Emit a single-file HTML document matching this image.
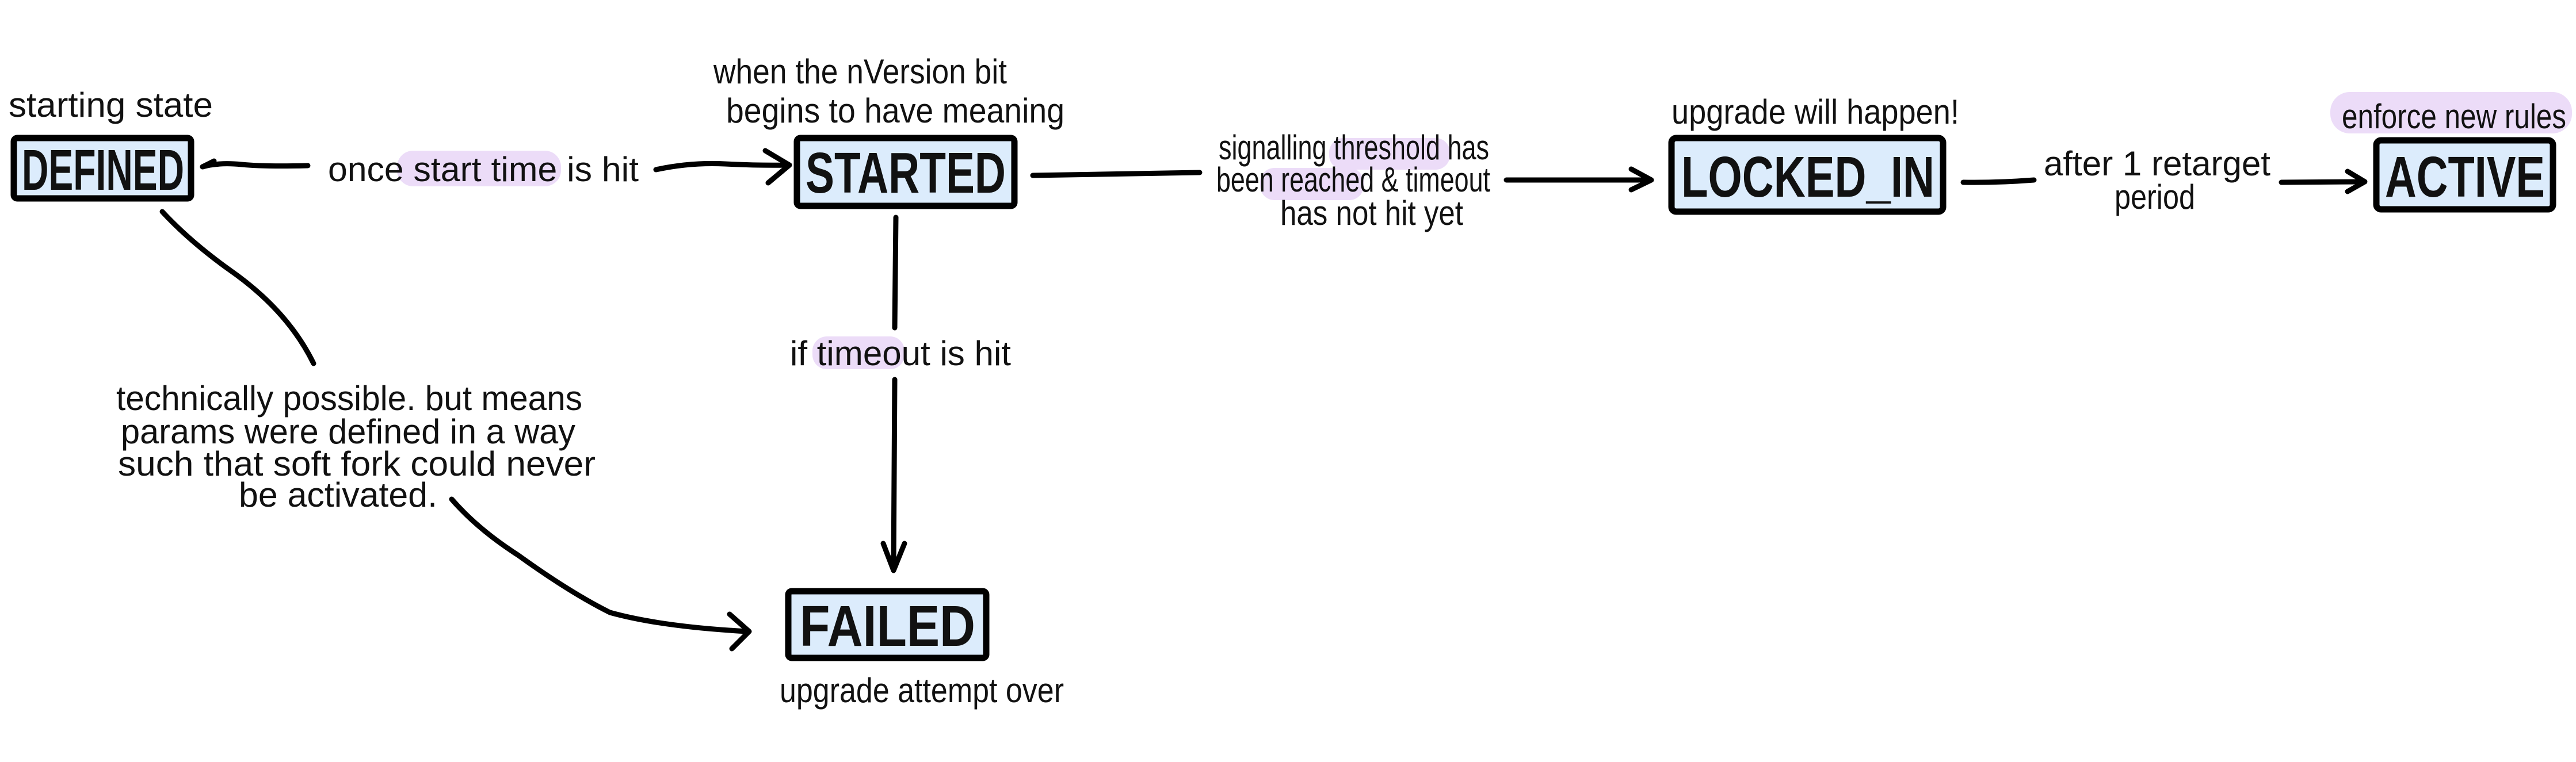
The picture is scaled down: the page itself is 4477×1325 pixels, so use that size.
<!DOCTYPE html>
<html><head><meta charset="utf-8"><style>
html,body{margin:0;padding:0;background:#fff;}
svg{display:block;}
.t{font-family:"Liberation Sans",sans-serif;font-size:60px;fill:#111;}
.b{font-family:"Liberation Sans",sans-serif;font-size:100px;font-weight:bold;fill:#111;}
.l{fill:none;stroke:#000;stroke-width:9;stroke-linecap:round;stroke-linejoin:round;}
.box{fill:#dcecfc;stroke:#000;stroke-width:11;}
.hl{fill:#ecdcf8;}
</style></head><body>
<svg width="4477" height="1325" viewBox="0 0 4477 1325" xmlns="http://www.w3.org/2000/svg">
<rect class="hl" x="690" y="262" width="285" height="62" rx="28"/>
<rect class="hl" x="1412" y="585" width="160" height="57" rx="25"/>
<rect class="hl" x="2310" y="240" width="210" height="55" rx="25"/>
<rect class="hl" x="2190" y="292" width="180" height="56" rx="25"/>
<rect class="hl" x="4050" y="160" width="420" height="72" rx="34"/>

<rect class="box" x="24" y="240" width="308" height="105" rx="6"/>
<text class="b" x="38" y="330" textLength="282" lengthAdjust="spacingAndGlyphs">DEFINED</text>
<rect class="box" x="1385" y="240" width="378" height="118" rx="6"/>
<text class="b" x="1400" y="335" textLength="348" lengthAdjust="spacingAndGlyphs">STARTED</text>
<rect class="box" x="2905" y="240" width="472" height="128" rx="8"/>
<text class="b" x="2922" y="342" textLength="440" lengthAdjust="spacingAndGlyphs">LOCKED_IN</text>
<rect class="box" x="4130" y="244" width="307" height="120" rx="8"/>
<text class="b" x="4145" y="342" textLength="278" lengthAdjust="spacingAndGlyphs">ACTIVE</text>
<rect class="box" x="1370" y="1028" width="344" height="116" rx="6"/>
<text class="b" x="1390" y="1123" textLength="305" lengthAdjust="spacingAndGlyphs">FAILED</text>

<text class="t" x="15" y="203" textLength="355" lengthAdjust="spacingAndGlyphs">starting  state</text>
<text class="t" x="1240" y="145" textLength="510" lengthAdjust="spacingAndGlyphs">when the nVersion bit</text>
<text class="t" x="1262" y="213" textLength="588" lengthAdjust="spacingAndGlyphs">begins to have meaning</text>
<text class="t" x="570" y="315" textLength="540" lengthAdjust="spacingAndGlyphs">once  start time  is hit</text>
<text class="t" x="2118" y="277" textLength="470" lengthAdjust="spacingAndGlyphs">signalling threshold has</text>
<text class="t" x="2114" y="333" textLength="476" lengthAdjust="spacingAndGlyphs">been reached  &amp; timeout</text>
<text class="t" x="2225" y="391" textLength="318" lengthAdjust="spacingAndGlyphs">has not hit yet</text>
<text class="t" x="2905" y="215" textLength="500" lengthAdjust="spacingAndGlyphs">upgrade  will happen!</text>
<text class="t" x="3552" y="305" textLength="394" lengthAdjust="spacingAndGlyphs">after 1 retarget</text>
<text class="t" x="3675" y="363" textLength="140" lengthAdjust="spacingAndGlyphs">period</text>
<text class="t" x="4070" y="223" textLength="390" lengthAdjust="spacingAndGlyphs">enforce new rules</text>
<text class="t" x="1373" y="635" textLength="384" lengthAdjust="spacingAndGlyphs">if timeout  is hit</text>
<text class="t" x="1355" y="1221" textLength="494" lengthAdjust="spacingAndGlyphs">upgrade attempt over</text>
<text class="t" x="202" y="713" textLength="810" lengthAdjust="spacingAndGlyphs">technically possible. but means</text>
<text class="t" x="210" y="771" textLength="790" lengthAdjust="spacingAndGlyphs">params were defined in a way</text>
<text class="t" x="205" y="827" textLength="830" lengthAdjust="spacingAndGlyphs">such that soft fork could never</text>
<text class="t" x="415" y="881" textLength="345" lengthAdjust="spacingAndGlyphs">be  activated.</text>

<path class="l" d="M352 290 Q380 282 420 286 T535 288"/>
<path class="l" d="M352 290 L372 280"/>
<path class="l" d="M1140 295 Q1200 282 1260 285 Q1320 288 1370 287"/>
<path class="l" d="M1330 262 L1372 287 L1335 318"/>
<path class="l" d="M1795 305 L2085 300"/>
<path class="l" d="M2618 313 L2868 313"/>
<path class="l" d="M2835 294 L2870 313 L2835 330"/>
<path class="l" d="M3412 317 Q3470 318 3535 313"/>
<path class="l" d="M3965 317 L4108 316"/>
<path class="l" d="M4080 298 L4110 316 L4080 333"/>
<path class="l" d="M1557 378 L1555 570"/>
<path class="l" d="M1555 660 L1553 990"/>
<path class="l" d="M1535 945 L1553 992 L1572 945"/>
<path class="l" d="M282 368 Q330 420 400 470 Q500 540 545 632"/>
<path class="l" d="M785 868 Q830 920 900 965 Q990 1030 1060 1065 Q1150 1090 1300 1098"/>
<path class="l" d="M1268 1068 L1302 1098 L1272 1128"/>
</svg>
</body></html>
